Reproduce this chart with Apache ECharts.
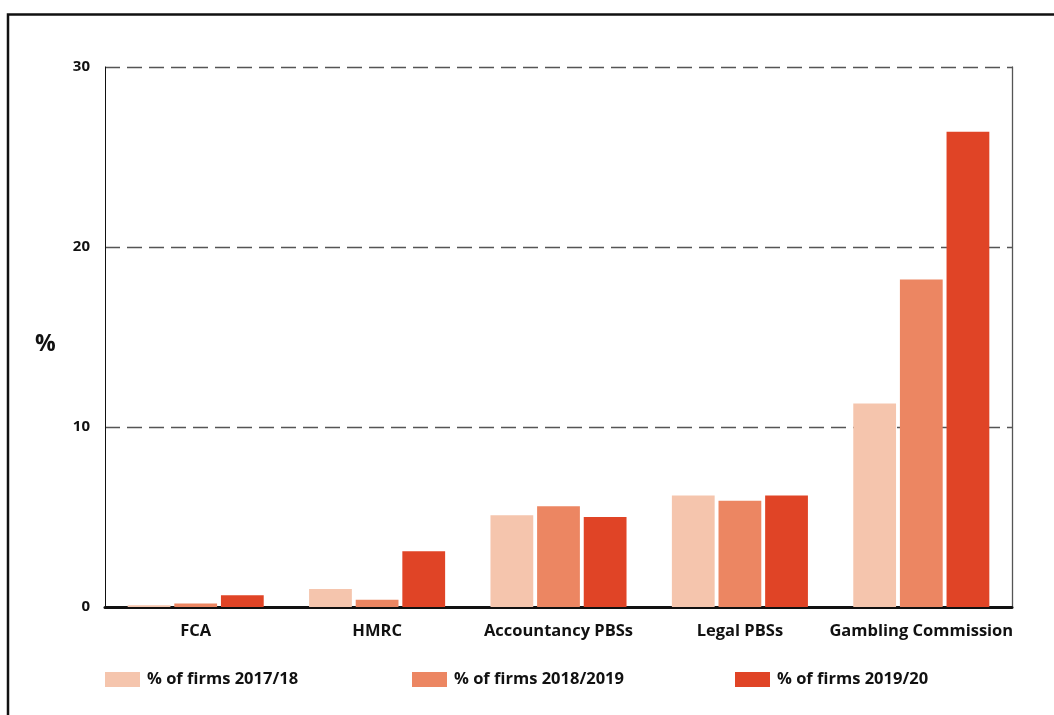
<!DOCTYPE html>
<html lang="en">
<head>
    <meta charset="UTF-8">
    <title>Firms by supervisor</title>
    <script src="https://cdn.jsdelivr.net/npm/echarts@6/dist/echarts.min.js"></script>
    <style>
        html, body { margin: 0; padding: 0; background: #fff; }
        #chart { width: 1054px; height: 715px; }
    </style>
</head>
<body>
<div id="chart"></div>
<script>
    var categories = ['FCA', 'HMRC', 'Accountancy PBSs', 'Legal PBSs', 'Gambling Commission'];
    var seriesNames = ['% of firms 2017/18', '% of firms 2018/2019', '% of firms 2019/20'];
    var firms1718 = [0.1, 1.0, 5.1, 6.2, 11.3];
    var firms1819 = [0.2, 0.4, 5.6, 5.9, 18.2];
    var firms1920 = [0.65, 3.1, 5.0, 6.2, 26.4];
    var yTicks = [0, 10, 20, 30];

    var colors = ['#f5c5ad', '#ec8662', '#e04426'];
    var font = '"Open Sans", "DejaVu Sans", sans-serif';
    var textCol = '#111';

    var chart = echarts.init(document.getElementById('chart'));

    // one legend per series, each placed on its own
    var legendLefts = [105, 412, 735];
    var legends = seriesNames.map(function (name, i) {
        return {
            data: [name],
            left: legendLefts[i],
            top: 671,
            padding: 0,
            itemWidth: 35,
            itemHeight: 15,
            itemGap: 0,
            icon: 'rect',
            selectedMode: false,
            textStyle: {color: textCol, fontFamily: font, fontSize: 16.5, fontWeight: 'bold', padding: [0, 0, 0, 2]}
        };
    });

    var option = {
        backgroundColor: '#fff',
        animation: false,
        color: colors,
        grid: {left: 105, right: 42, top: 67, bottom: 108},
        legend: legends,
        graphic: [{
            type: 'rect',
            shape: {x: 8, y: 14.5, width: 1200, height: 900},
            style: {fill: 'none', stroke: '#111', lineWidth: 2.5},
            silent: true
        }, {
            type: 'text',
            left: 35,
            top: 333,
            style: {text: '%', fill: textCol, font: 'bold 23px ' + font}
        }],
        xAxis: {
            type: 'category',
            data: categories,
            axisLine: {show: true, lineStyle: {color: '#111', width: 3}},
            axisTick: {show: false},
            axisLabel: {interval: 0, color: textCol, fontFamily: font, fontSize: 16.5, fontWeight: 'bold', margin: 16}
        },
        yAxis: [{
            type: 'value',
            min: yTicks[0],
            max: yTicks[yTicks.length - 1],
            interval: 10,
            axisLine: {show: true, lineStyle: {color: '#111', width: 1}},
            axisTick: {show: false},
            axisLabel: {color: textCol, fontFamily: font, fontSize: 15, fontWeight: 'bold', margin: 15},
            splitLine: {show: true, lineStyle: {type: [15, 7], color: '#555', width: 1.3}}
        }, {
            type: 'value',
            position: 'right',
            min: 0,
            max: 30,
            interval: 10,
            axisLine: {show: true, lineStyle: {color: '#555', width: 1.3}},
            axisTick: {show: false},
            axisLabel: {show: false},
            splitLine: {show: false}
        }],
        series: [
            {name: seriesNames[0], type: 'bar', data: firms1718, barGap: '9%', barCategoryGap: '25%'},
            {name: seriesNames[1], type: 'bar', data: firms1819, barGap: '9%', barCategoryGap: '25%'},
            {name: seriesNames[2], type: 'bar', data: firms1920, barGap: '9%', barCategoryGap: '25%'}
        ]
    };
    chart.setOption(option);
</script>
</body>
</html>
